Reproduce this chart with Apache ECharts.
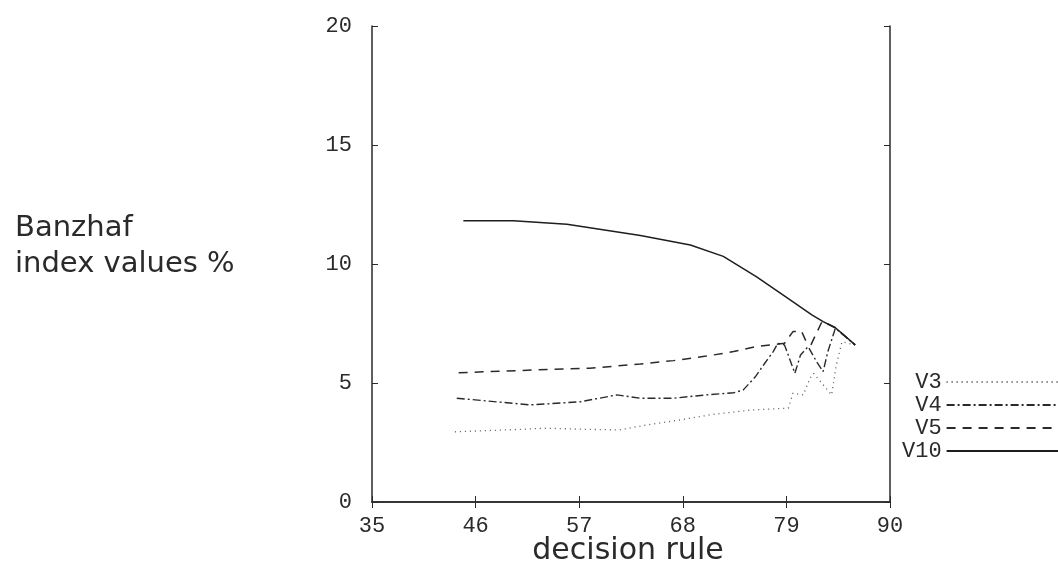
<!DOCTYPE html>
<html>
<head>
<meta charset="utf-8">
<title>Banzhaf index values</title>
<script src="https://cdn.jsdelivr.net/npm/echarts@6/dist/echarts.min.js"></script>
<style>
  html, body { margin: 0; padding: 0; background: #fff; }
  #chartDom { width: 1058px; height: 563px; }
</style>
</head>
<body>
<div id="chartDom"></div>
<script>
// decision rule ticks
var ruleTicks = [35, 46, 57, 68, 79, 90];
var seriesNames = ['V3', 'V4', 'V5', 'V10'];

// (decision rule, index value %)
var ruleV3 = [43.8, 49.3, 53.5, 58.1, 61.3, 64.2, 67.7, 71.2, 75.4, 79.2, 79.7, 80.8, 81.5, 81.9, 83.8, 84.3, 84.9, 86.3];
var valV3  = [2.95, 3.03, 3.1, 3.05, 3.03, 3.24, 3.45, 3.68, 3.87, 3.94, 4.57, 4.5, 5.2, 5.4, 4.5, 5.76, 6.73, 6.6];

var ruleV4 = [44.0, 51.8, 57.1, 61.0, 63.5, 67.0, 70.5, 73.4, 74.4, 75.7, 76.7, 77.6, 78.1, 78.8, 79.9, 80.5, 81.3, 82.2, 82.9, 83.4, 84.2, 86.3];
var valV4  = [4.36, 4.08, 4.21, 4.5, 4.36, 4.36, 4.5, 4.59, 4.7, 5.26, 5.83, 6.32, 6.67, 6.6, 5.41, 6.18, 6.53, 5.9, 5.48, 6.32, 7.3, 6.6];

var ruleV5 = [44.2, 46.8, 52.5, 58.1, 63.5, 67.0, 70.5, 73.4, 75.8, 78.8, 79.7, 80.6, 81.1, 81.6, 82.8, 84.2, 86.3];
var valV5  = [5.43, 5.47, 5.55, 5.62, 5.8, 5.94, 6.13, 6.32, 6.53, 6.67, 7.16, 7.18, 6.74, 6.6, 7.6, 7.32, 6.6];

var ruleV10 = [44.7, 50.0, 55.7, 63.5, 68.8, 72.3, 75.8, 79.4, 81.7, 82.9, 84.2, 86.3];
var valV10  = [11.82, 11.82, 11.67, 11.2, 10.8, 10.32, 9.47, 8.49, 7.86, 7.58, 7.32, 6.6];

function pairs(xs, ys) {
    var out = [];
    for (var i = 0; i < xs.length; i++) out.push([xs[i], ys[i]]);
    return out;
}

var mono = '"Liberation Mono", "DejaVu Sans Mono", monospace';
var sans = '"DejaVu Sans", sans-serif';
var ink = '#2a2a2a';

var chartDom = echarts.init(document.getElementById('chartDom'));

function mkLine(name, data, type, color, width) {
    return {
        name: name,
        type: 'line',
        data: data,
        showSymbol: false,
        symbol: 'none',
        lineStyle: { color: color, width: width, type: type },
        itemStyle: { color: color }
    };
}

chartDom.setOption({
    backgroundColor: '#fff',
    animation: false,
    grid: { left: 372, top: 26, width: 518, height: 476, outerBoundsMode: 'none', containLabel: false },
    graphic: [{
        // y axis title, sits to the left of the plot
        type: 'text',
        left: 15,
        top: 210,
        style: {
            text: 'Banzhaf\nindex values %',
            font: '29px "DejaVu Sans", sans-serif',
            lineHeight: 36,
            fill: ink
        }
    }],
    legend: {
        data: seriesNames,
        orient: 'vertical',
        left: 897,
        top: 366,
        align: 'right',
        itemWidth: 130,
        itemHeight: 14,
        itemGap: 1,
        itemStyle: { opacity: 0 },
        textStyle: { fontFamily: mono, fontSize: 22, color: ink, width: 43, align: 'left' }
    },
    xAxis: [{
        type: 'value',
        min: 35,
        max: 90,
        splitLine: { show: false },
        axisLine: { lineStyle: { color: ink, width: 1.5 } },
        axisTick: { inside: true, length: 6, customValues: ruleTicks, lineStyle: { color: ink } },
        axisLabel: { customValues: ruleTicks, margin: 13, fontFamily: mono, fontSize: 22, color: ink },
        name: 'decision rule',
        nameLocation: 'middle',
        nameGap: 34,
        nameMoveOverlap: false,
        nameTextStyle: { fontFamily: sans, fontSize: 30, color: ink, padding: [0, 6, 0, 0] }
    }, {
        type: 'value',
        position: 'top',
        min: 35,
        max: 90,
        splitLine: { show: false },
        axisLine: { lineStyle: { color: ink, width: 1.5 } },
        axisTick: { inside: true, length: 6, customValues: ruleTicks, lineStyle: { color: ink } },
        axisLabel: { show: false }
    }],
    yAxis: [{
        type: 'value',
        min: 0,
        max: 20,
        interval: 5,
        splitLine: { show: false },
        axisLine: { show: true, lineStyle: { color: ink, width: 1.5 } },
        axisTick: { show: true, inside: true, length: 6, lineStyle: { color: ink } },
        axisLabel: { margin: 20, fontFamily: mono, fontSize: 22, color: ink }
    }, {
        type: 'value',
        position: 'right',
        min: 0,
        max: 20,
        interval: 5,
        splitLine: { show: false },
        axisLine: { show: true, lineStyle: { color: ink, width: 1.5 } },
        axisTick: { show: true, inside: true, length: 6, lineStyle: { color: ink } },
        axisLabel: { show: false }
    }],
    series: [
        mkLine('V3', pairs(ruleV3, valV3), [1, 4], '#555', 1.3),
        mkLine('V4', pairs(ruleV4, valV4), [8, 3, 2, 3], '#2a2a2a', 1.4),
        mkLine('V5', pairs(ruleV5, valV5), [9, 7], '#2a2a2a', 1.5),
        mkLine('V10', pairs(ruleV10, valV10), 'solid', '#1e1e1e', 1.5)
    ]
});
</script>
</body>
</html>
